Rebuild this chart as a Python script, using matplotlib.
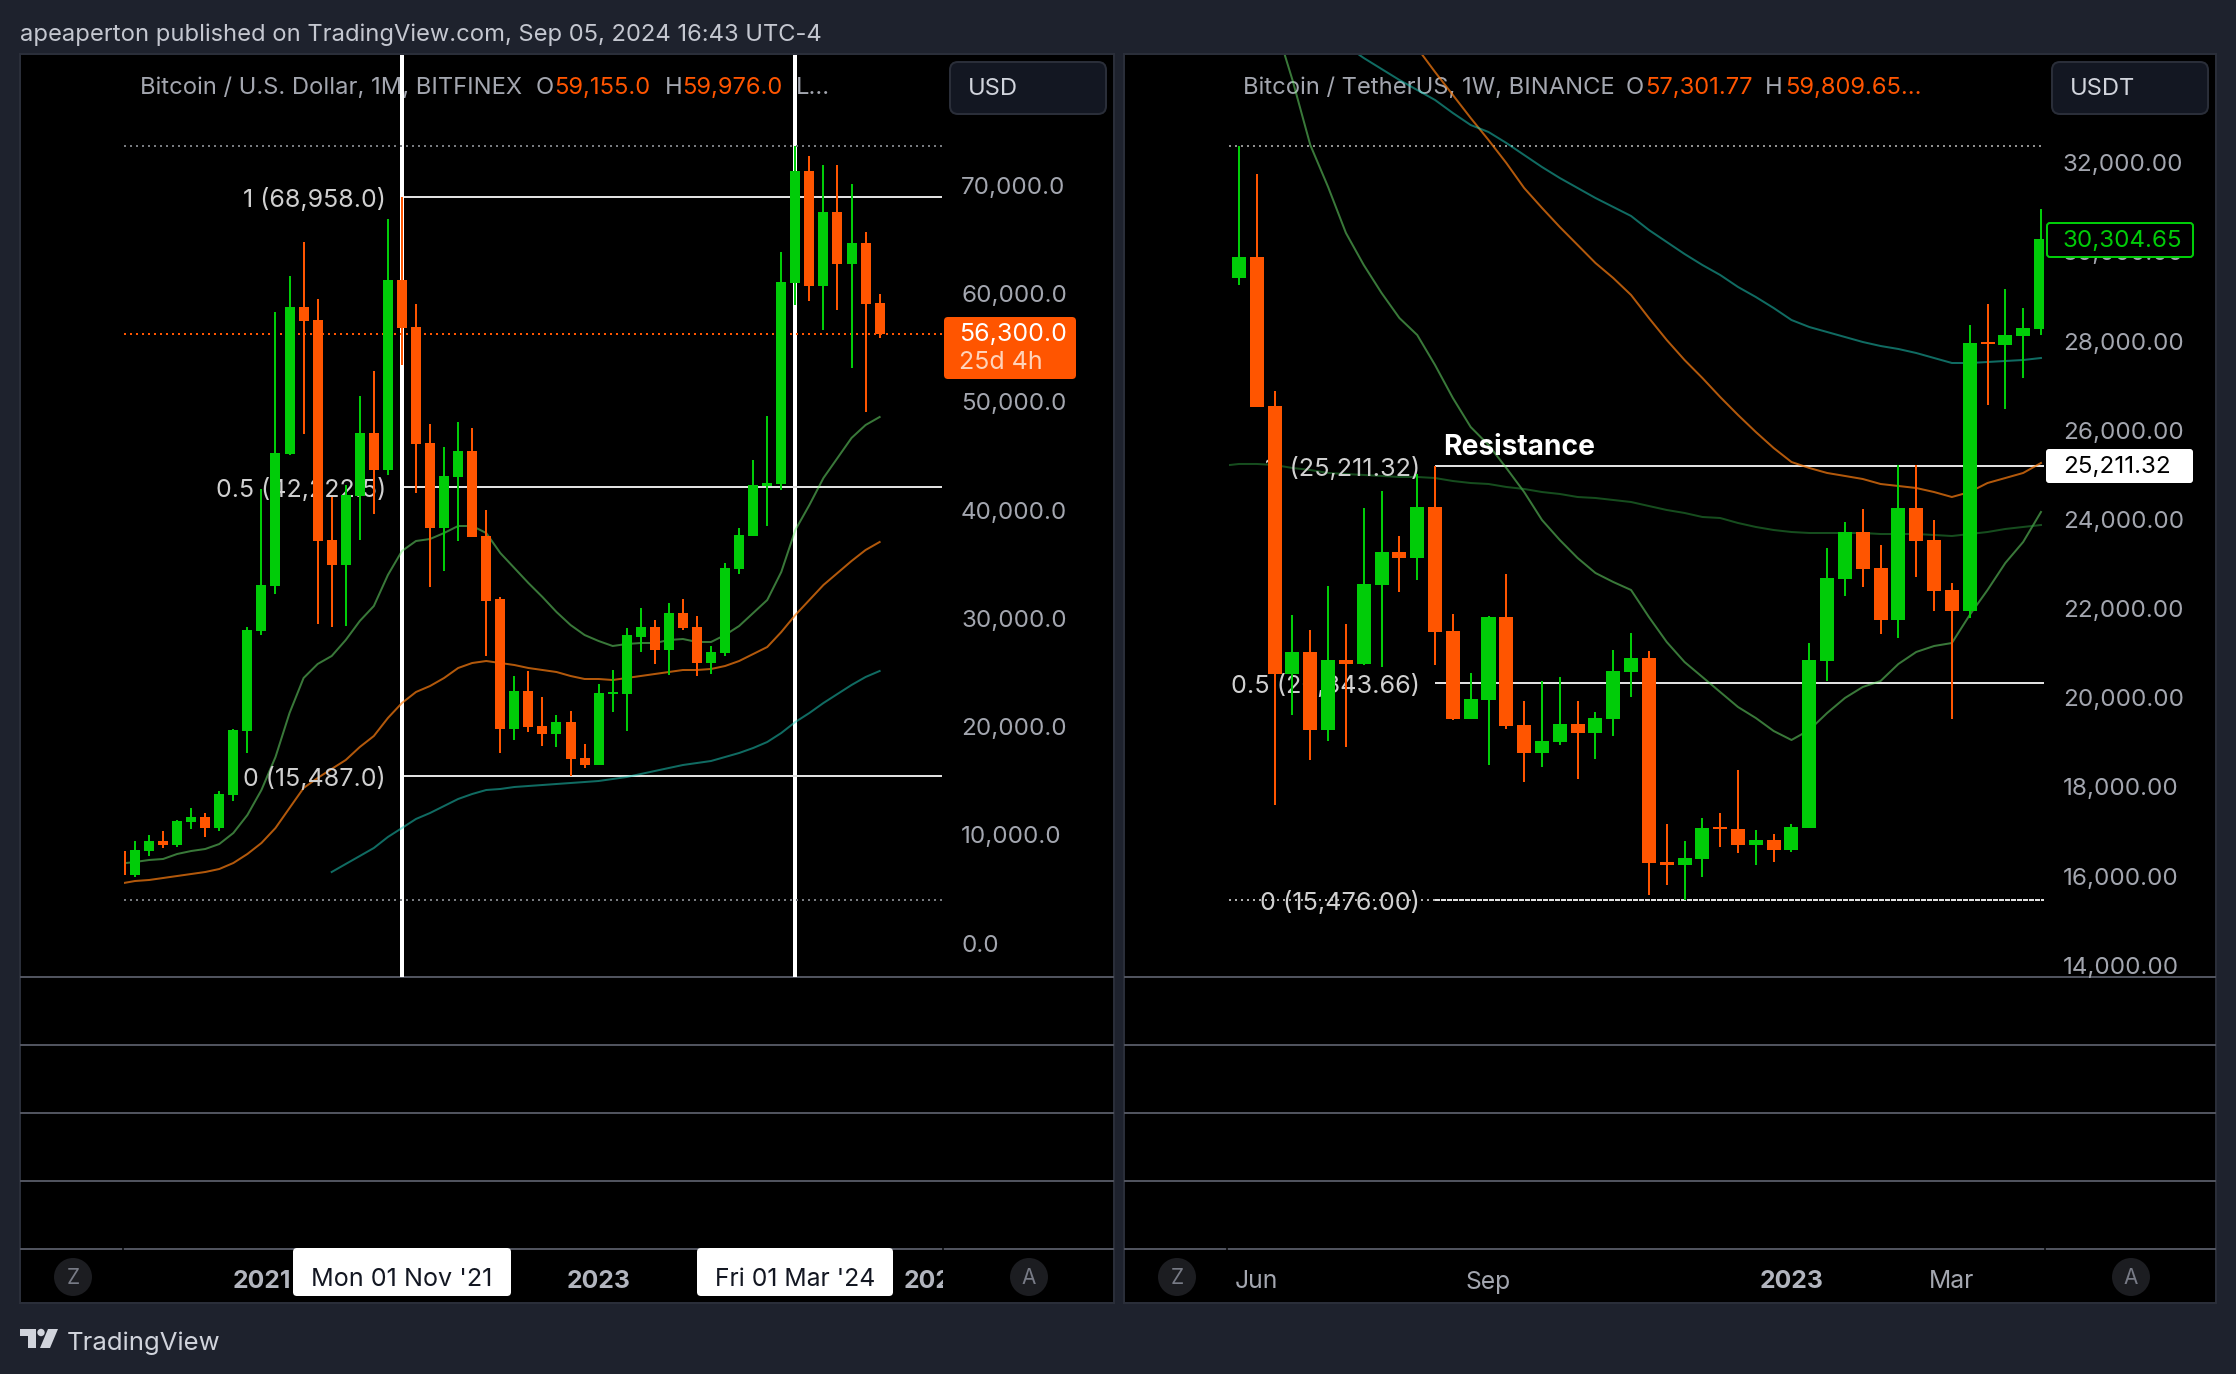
import numpy as np
import matplotlib
matplotlib.use("Agg")
import matplotlib.pyplot as plt
from matplotlib.patches import Rectangle, FancyBboxPatch, Circle, Polygon
from matplotlib.transforms import Affine2D

plt.rcParams['font.family'] = ['Inter', 'DejaVu Sans']

# left chart: BTCUSD monthly, first candle is Mar 2020
left_open = [8561, 6345, 8561, 9485, 9115, 11240, 11701, 10685, 13733, 19644, 28878, 33034, 45224, 58800, 57599,
             37282, 34973, 41345, 47163, 43747, 61293, 56953, 46240, 38391, 43100, 45502, 37652, 31833, 19829, 23337,
             20105, 19367, 20474, 17151, 16503, 23060, 23060, 28325, 29247, 27123, 30541, 29247, 25923, 26846, 34603,
             37652, 42269, 42454, 61016, 71359, 60739, 67573, 62771, 64710, 59155]
left_high = [9100, 9485, 10039, 10409, 11424, 12533, 12071, 14103, 19829, 29247, 41992, 58338, 61662, 64802, 59539,
             41253, 42361, 50581, 52890, 66926, 68958, 59077, 47994, 45870, 48179, 47625, 40053, 32019, 24723, 25184,
             22783, 21121, 21490, 18443, 23983, 25277, 29154, 30973, 29894, 31464, 31833, 30263, 27493, 35158, 38391,
             44670, 48733, 63879, 73668, 72744, 71913, 71913, 70159, 65726, 59976]
left_low = [4036, 6160, 8099, 8838, 8931, 10593, 9855, 10409, 13179, 17612, 28508, 32294, 45132, 47071, 29525,
            29247, 29340, 37282, 39683, 43285, 53443, 41622, 32942, 34420, 37190, 37559, 26570, 17612, 18812, 19551,
            18258, 18165, 15487, 16227, 16503, 21398, 19644, 26939, 25831, 24815, 28970, 24723, 24907, 26570, 34142,
            37652, 38575, 41900, 58984, 59354, 56675, 58523, 53166, 49103, 55937]
left_close = [6345, 8653, 9485, 9115, 11332, 11701, 10685, 13826, 19736, 28970, 33127, 45316, 58800, 57507, 37190,
              34973, 41438, 47163, 43747, 61293, 56860, 46148, 38391, 43192, 45502, 37559, 31648, 19829, 23337, 20013,
              19367, 20474, 17058, 16503, 23153, 23245, 28509, 29247, 27123, 30541, 29154, 25923, 26939, 34696, 37744,
              42361, 42546, 61108, 71359, 60739, 67573, 62771, 64710, 59077, 56306]

left_ma_green = [7400, 7546, 7730, 7823, 8285, 8561, 8746, 9207, 10223, 11886, 14195, 17242, 21306, 24538, 25831,
                 26570, 28047, 29802, 31186, 34050, 36266, 37190, 37374, 37929, 38575, 38575, 37929, 36082, 34696,
                 33311, 32019, 30634, 29432, 28508, 27953, 27493, 27678, 27770, 27770, 28047, 28139, 27862, 27862,
                 28508, 29340, 30540, 31741, 34327, 38205, 40514, 43007, 44854, 46704, 47902, 48640]
left_ma_orange = [5560, 5790, 5883, 6067, 6252, 6437, 6622, 6899, 7453, 8285, 9300, 10685, 12533, 14380, 15304,
                  16140, 16965, 18165, 19181, 20843, 22229, 23245, 23799, 24538, 25461, 25923, 26107, 25923, 25738,
                  25461, 25277, 25092, 24723, 24446, 24446, 24353, 24538, 24723, 24907, 25092, 25277, 25277, 25369,
                  25646, 26107, 26753, 27399, 28784, 30355, 31741, 33126, 34234, 35342, 36358, 37097]
# teal one only starts at bar 14
left_ma_teal = [6622, 7362, 8099, 8838, 9855, 10685, 11519, 12071, 12718, 13365, 13826, 14195, 14288, 14472, 14564,
                14656, 14749, 14841, 14933, 15026, 15210, 15394, 15672, 15951, 16227, 16503, 16688, 16873, 17242,
                17612, 18073, 18627, 19460, 20474, 21306, 22229, 23060, 23891, 24630, 25184]
left_ticks = [0, 10000, 20000, 30000, 40000, 50000, 60000, 70000]
left_fibs = [68958.0, 42222.5, 15487.0]
left_fib_labels = ['1 (68,958.0)', '0.5 (42,222.5)', '0 (15,487.0)']
left_date_pos = [9, 33, 57]
left_date_labels = ['2021', '2023', '2025']

# right chart: BTCUSDT weekly
right_open = [29427, 29898, 26556, 20545, 21039, 19289, 20859, 20770, 22542, 23282, 23147, 24291, 21510, 19536, 19962,
              21824, 19401, 18773, 19020, 19424, 19222, 19536, 20590, 20904, 16328, 16261, 16396, 17113, 17068, 16709,
              16821, 16597, 17091, 20837, 22676, 23730, 22923, 21756, 24269, 23551, 22429, 21958, 27992, 27925, 28127,
              28284]
right_high = [32388, 31760, 26893, 21868, 21532, 22519, 21667, 24269, 24650, 23640, 25031, 25211, 21891, 20568, 21846,
              22788, 19940, 20388, 20478, 19940, 19693, 21084, 21465, 21061, 17181, 16799, 17315, 17427, 18392, 17046,
              16956, 17181, 21240, 23371, 23955, 24246, 23439, 25233, 25233, 24000, 22586, 28373, 28844, 29181, 28755,
              30975]
right_low = [29270, 26534, 17607, 19626, 18616, 19043, 18908, 20747, 20702, 22384, 22654, 20747, 19513, 19536, 18504,
             19311, 18123, 18459, 18953, 18190, 18639, 19154, 20029, 15588, 15812, 15476, 15992, 16665, 16530, 16261,
             16328, 16553, 17091, 20388, 22295, 22496, 21442, 21352, 22721, 21958, 19536, 21801, 26579, 26489, 27185,
             28149]
right_close = [29898, 26534, 20545, 21039, 19289, 20859, 20770, 22564, 23282, 23147, 24291, 21487, 19536, 19985, 21824,
               19379, 18773, 19043, 19424, 19222, 19558, 20613, 20904, 16306, 16261, 16418, 17091, 17068, 16709, 16821,
               16597, 17113, 20859, 22698, 23730, 22900, 21756, 24269, 23528, 22407, 21958, 27970, 27947, 28149, 28306,
               30304.65]

# green starts at bar 2, orange at 9, teal at 6, dark green at -1
right_ma_green = [35170, 33869, 32411, 31469, 30437, 29719, 29091, 28530, 28149, 27476, 26736, 26085, 25682, 25166,
                  24627, 24000, 23551, 23147, 22811, 22609, 22429, 21824, 21263, 20814, 20478, 20141, 19805, 19558,
                  19267, 19065, 19289, 19670, 20007, 20254, 20388, 20770, 21039, 21173, 21240, 21868, 22429, 23035,
                  23506, 24179]
right_ma_orange = [35103, 34586, 34048, 33532, 33016, 32523, 32007, 31446, 31000, 30571, 30168, 29764, 29427, 29046,
                   28530, 28037, 27588, 27185, 26758, 26355, 25973, 25614, 25300, 25166, 25054, 24987, 24919, 24807,
                   24762, 24717, 24627, 24515, 24627, 24829, 24941, 25054, 25278]
right_ma_teal = [34640, 34362, 34115, 33869, 33644, 33420, 33128, 32859, 32702, 32456, 32186, 31917, 31670, 31446,
                 31222, 31020, 30818, 30504, 30235, 29966, 29719, 29495, 29226, 29001, 28754, 28485, 28328, 28216,
                 28104, 27992, 27902, 27835, 27745, 27633, 27521, 27521, 27543, 27566, 27588, 27633]
right_ma_dark = [25211, 25256, 25256, 25233, 25166, 25121, 25054, 25031, 25009, 24987, 24964, 24964, 24941, 24874,
                 24829, 24807, 24740, 24695, 24627, 24583, 24515, 24493, 24448, 24403, 24313, 24224, 24157, 24067,
                 24044, 23932, 23843, 23775, 23730, 23708, 23708, 23708, 23708, 23685, 23685, 23685, 23663, 23640,
                 23685, 23730, 23798, 23843, 23887]
right_ticks = [14000, 16000, 18000, 20000, 22000, 24000, 26000, 28000, 30000, 32000]
right_fibs = [25211.32, 20343.66, 15476.00]
right_fib_labels = ['1  (25,211.32)', '0.5 (20,343.66)', '0 (15,476.00)']
right_date_pos = [1, 14, 31, 40]
right_date_labels = ['Jun', 'Sep', '2023', 'Mar']

UP = '#00cc08'
DOWN = '#ff5500'
BG = '#1e222d'
EDGE = '#2a2e39'
SEP = '#50535e'
AXTXT = '#a3a6af'
PX = 0.72  # points per pixel at dpi 100


def candles(ax, x, o, h, l, c, body):
    o, h, l, c = map(np.array, (o, h, l, c))
    cols = np.where(c >= o, UP, DOWN)
    ax.vlines(x, l, h, colors=cols, lw=2 * PX, zorder=6, capstyle='butt')
    ax.bar(x, np.abs(c - o), bottom=np.minimum(o, c), width=body, color=cols, lw=0, zorder=7)


def ma(ax, start, vals, col, alpha):
    ax.plot(np.arange(len(vals)) + start, vals, color=col, alpha=alpha, lw=2 * PX, zorder=4)


def level(ax, x0, x1, v, col, ls='-', lw=2):
    ax.plot([x0, x1], [v, v], color=col, lw=lw * PX, ls=ls, zorder=3, solid_capstyle='butt', dash_capstyle='butt')


def note(ax, x, v, s, col, size, ha='right', **kw):
    ax.annotate(s, (x, v), xytext=(0, -3 * PX), textcoords='offset points', ha=ha, va='center',
                color=col, fontsize=size, zorder=5, **kw)


def setup(ax, xlim, ylim, ticks, fmt, date_pos, date_labels, bold):
    ax.set_xlim(*xlim)
    ax.set_ylim(*ylim)
    ax.patch.set_visible(False)
    for s in ax.spines.values():
        s.set_visible(False)
    ax.yaxis.tick_right()
    ax.set_yticks(ticks)
    ax.set_yticklabels([format(t, fmt) for t in ticks], va='center')
    ax.tick_params(axis='y', length=0, pad=19 * PX, labelsize=17.4, labelcolor=AXTXT)
    # nudge the price labels a little down
    for t in ax.yaxis.get_major_ticks():
        t.label2.set_transform(t.label2.get_transform() + Affine2D().translate(0, -2))
    ax.set_xticks(date_pos)
    ax.set_xticklabels(date_labels)
    ax.tick_params(axis='x', length=0, pad=293.5 * PX, labelsize=17.8, labelcolor=AXTXT)
    for t, s in zip(ax.get_xticklabels(), date_labels):
        if s in bold:
            t.set_fontweight('bold')
            t.set_color('#b2b5be')


W, H = 2236, 1374
fig = plt.figure(figsize=(W / 100, H / 100), dpi=100, facecolor=BG)

back = fig.add_axes([0, 0, 1, 1], zorder=0)
back.set_xlim(0, W)
back.set_ylim(H, 0)
back.axis('off')
front = fig.add_axes([0, 0, 1, 1], zorder=3)
front.set_xlim(0, W)
front.set_ylim(H, 0)
front.axis('off')
front.patch.set_visible(False)

for x0, x1 in [(20, 1114), (1124, 2216)]:
    back.add_patch(Rectangle((x0, 54), x1 - x0, 1249, fc='black', ec=EDGE, lw=2 * PX))
    for y in [977, 1045, 1113, 1181, 1249]:
        back.plot([x0, x1], [y, y], color=SEP, lw=2 * PX, solid_capstyle='butt')
for x in [123, 943, 1227, 2045]:
    back.plot([x, x], [1248, 1250], color='black', lw=1.5 * PX)

axl = fig.add_axes([124 / W, 1 - 977 / H, 818 / W, 922 / H], zorder=1)
axr = fig.add_axes([1229 / W, 1 - 977 / H, 815 / W, 922 / H], zorder=1)

# left chart
lx = np.arange(len(left_open)) - 1
lxlim = (-0.783, 57.44)
setup(axl, lxlim, (-3075, 82072), left_ticks, ',.1f', left_date_pos, left_date_labels, left_date_labels)
for i in [19, 47]:
    axl.axvline(i, color='white', lw=4 * PX, zorder=2)
level(axl, lxlim[0], lxlim[1], 73668, '#787b80', (0, (1, 2)))
level(axl, lxlim[0], lxlim[1], 4036, '#787b80', (0, (1, 2)))
level(axl, lxlim[0], lxlim[1], 56300, DOWN, (0, (1, 2)))
for v, s in zip(left_fibs, left_fib_labels):
    level(axl, 19.15, lxlim[1], v, '#e0e0e0')
    note(axl, 17.85, v, s, '#d0d0d0', 18)
ma(axl, -1, left_ma_green, '#72f072', 0.5)
ma(axl, -1, left_ma_orange, '#ff7f10', 0.7)
ma(axl, 14, left_ma_teal, '#20d6c4', 0.5)
candles(axl, lx, left_open, left_high, left_low, left_close, 10 / 14.05)

# right chart
rx = np.arange(len(right_open))
rxlim = (-0.561, 45.17)
setup(axr, rxlim, (13749, 34429), right_ticks, ',.2f', right_date_pos, right_date_labels, ['2023'])
level(axr, rxlim[0], 45, 32388, '#909090', (0, (1, 2)))
level(axr, rxlim[0], 11, 15476, '#b0b0b0', (0, (1, 2)))
for v, s in zip(right_fibs, right_fib_labels):
    level(axr, 11, rxlim[1], v, '#e0e0e0', (0, (2.5, 0.5)) if v == right_fibs[2] else '-')
    note(axr, 10.15, v, s, '#d0d0d0', 18.2)
note(axr, 11.43, 25700, 'Resistance', 'white', 20.3, ha='left', fontweight='bold')
ma(axr, 2, right_ma_green, '#72f072', 0.5)
ma(axr, 9, right_ma_orange, '#ff7f10', 0.7)
ma(axr, 6, right_ma_teal, '#20d6c4', 0.5)
ma(axr, -1, right_ma_dark, '#2c9a3c', 0.5)
candles(axr, rx, right_open, right_high, right_low, right_close, 14 / 17.82)


def txt(a, x, y, s, col, size=17.1, **kw):
    kw.setdefault('va', 'center')
    a.text(x, y + 3, s, color=col, fontsize=size, **kw)


# header and legend strips
txt(back, 20, 32, 'apeaperton published on TradingView.com, Sep 05, 2024 16:43 UTC-4', '#c4c7d0')
legend_grey = '#a3a6af'
txt(back, 140, 85, 'Bitcoin / U.S. Dollar, 1M, BITFINEX', legend_grey)
txt(back, 536, 85, 'O', legend_grey)
txt(back, 554, 85, '59,155.0', DOWN)
txt(back, 665, 85, 'H', legend_grey)
txt(back, 682, 85, '59,976.0', DOWN)
txt(back, 796, 85, 'L...', legend_grey)
txt(back, 1243, 85, 'Bitcoin / TetherUS, 1W, BINANCE', legend_grey)
txt(back, 1626, 85, 'O', legend_grey)
txt(back, 1645, 85, '57,301.77', DOWN)
txt(back, 1765, 85, 'H', legend_grey)
txt(back, 1785, 85, '59,809.65...', DOWN)


def box(x0, y0, x1, y1, fc, ec='none', r=6, lw=0):
    front.add_patch(FancyBboxPatch((x0, y0), x1 - x0, y1 - y0, boxstyle='round,pad=0,rounding_size=%d' % r,
                                   fc=fc, ec=ec, lw=lw * PX))


# currency buttons
box(950, 62, 1106, 114, '#131722', EDGE, 8, 2)
txt(front, 968, 86, 'USD', '#d1d4dc')
box(2052, 62, 2208, 114, '#131722', EDGE, 8, 2)
txt(front, 2070, 86, 'USDT', '#d1d4dc')

# price tags
box(944, 317, 1076, 379, DOWN, r=4)
txt(front, 959, 331.5, '56,300.0', 'white', 18)
txt(front, 959, 359.5, '25d 4h', '#ffd3ba', 18)
box(2047, 223, 2193, 257, 'black', UP, 3, 2)
txt(front, 2063, 238, '30,304.65', UP, 17.4)
box(2046, 449, 2193, 483, 'white', r=3)
txt(front, 2063, 464, '25,211.32', 'black', 17.4)

# crosshair date tags
box(293, 1248, 511, 1296, 'white', r=4)
txt(front, 402, 1277, "Mon 01 Nov '21", '#131722', 18.1, ha='center')
box(697, 1248, 893, 1296, 'white', r=4)
txt(front, 795, 1277, "Fri 01 Mar '24", '#131722', 17.8, ha='center')
# the last year label gets cut by the price scale
front.add_patch(Rectangle((943, 1251), 60, 50, fc='black', ec='none'))

# Z / A buttons
for x, s in [(73, 'Z'), (1029, 'A'), (1177, 'Z'), (2131, 'A')]:
    front.add_patch(Circle((x, 1277), 19, fc='#1c1d21', ec='none'))
    txt(front, x, 1275, s, '#787b86', 15, ha='center')

# TradingView logo
logo = '#d1d4dc'
front.add_patch(Polygon([(20, 1329), (36, 1329), (36, 1348), (28, 1348), (28, 1336), (20, 1336)], fc=logo, ec='none'))
front.add_patch(Circle((41, 1332.5), 3.7, fc=logo, ec='none'))
front.add_patch(Polygon([(48, 1329), (58, 1329), (50, 1348), (40, 1348)], fc=logo, ec='none'))
txt(front, 67, 1340, 'TradingView', logo, 18.5)

fig.savefig('out.png', dpi=100, facecolor=BG)
